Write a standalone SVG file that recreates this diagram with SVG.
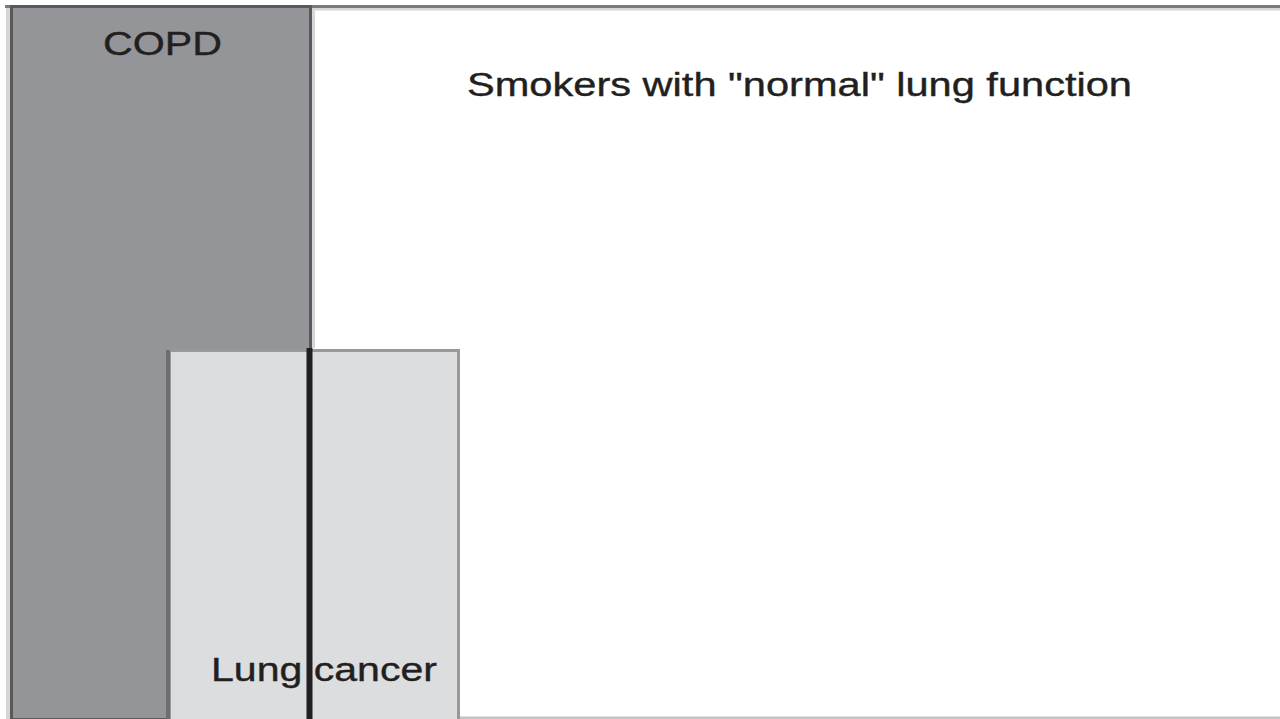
<svg xmlns="http://www.w3.org/2000/svg" width="1280" height="719" viewBox="0 0 1280 719">
<style>
.lbl{font-family:"Liberation Sans",Arial,sans-serif;fill:#231f20;stroke:#231f20;stroke-width:0.4}
</style>
<rect x="0" y="0" width="1280" height="719" fill="#ffffff"/>
<g id="frame">
<rect x="6" y="7.5" width="1274" height="3" fill="#d6d6d6"/>
<rect x="5" y="5" width="1275" height="3" fill="#7a7a7a"/>
<rect x="6" y="8" width="4" height="711" fill="#d6d6d6"/>
<rect x="460" y="716.5" width="820" height="2.5" fill="#c4c4c4"/>
</g>
<g id="copd">
<rect x="11.5" y="6.5" width="299" height="713" fill="#939598" stroke="#58595b" stroke-width="3"/>
<rect x="312" y="8" width="3" height="340" fill="#d6d6d6"/>
<text class="lbl" x="103" y="55" font-size="34" textLength="119" lengthAdjust="spacingAndGlyphs">COPD</text>
</g>
<g id="smokers">
<text class="lbl" x="467" y="96" font-size="34" textLength="665" lengthAdjust="spacingAndGlyphs">Smokers with "normal" lung function</text>
</g>
<g id="lung-cancer">
<rect x="169.5" y="350.5" width="289" height="372" fill="#dcdddf" stroke="#999999" stroke-width="3"/>
<rect x="166" y="350" width="4" height="369" fill="#6d6e70"/>
<text class="lbl" x="211" y="681" font-size="34" textLength="226" lengthAdjust="spacingAndGlyphs">Lung cancer</text>
</g>
<g id="connectors">
<line x1="309.5" y1="348" x2="309.5" y2="719" stroke="#231f20" stroke-width="6"/>
</g>
</svg>
